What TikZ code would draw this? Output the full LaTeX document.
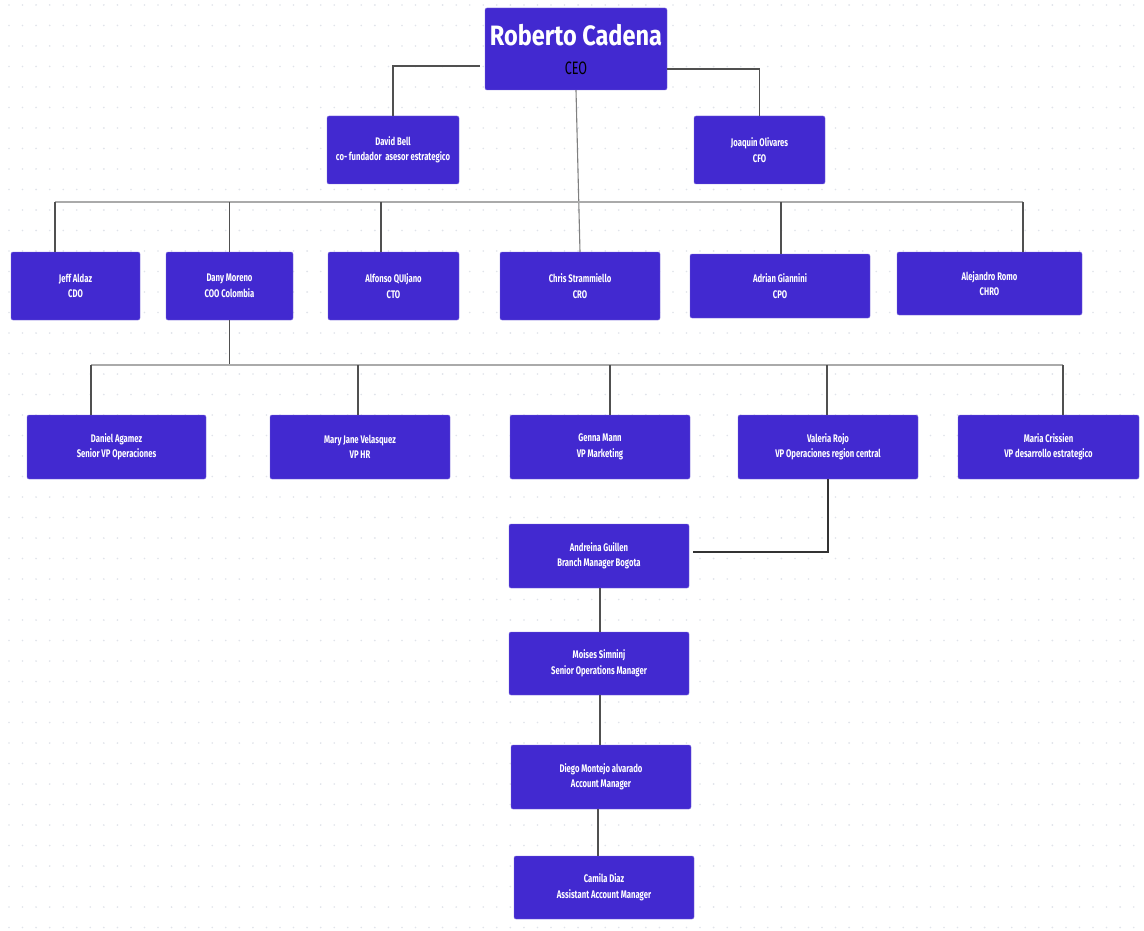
\documentclass[tikz,border=0pt]{standalone}
\usepackage{fontspec}
\setmainfont{Fira Sans}
\newfontfamily\cardfont[FakeStretch=0.7]{Fira Sans}
\newfontfamily\titlefont[FakeStretch=0.84]{Fira Sans}
\usetikzlibrary{positioning, calc}

\definecolor{cardblue}{RGB}{66,41,208}
\definecolor{wiregray}{RGB}{80,80,80}
\definecolor{busgray}{RGB}{170,170,170}
\definecolor{dotgray}{RGB}{224,227,234}

\tikzset{
    card/.style={fill=cardblue, draw=cardblue!70, rounded corners=2pt, text=white, align=center,
        inner sep=0pt, font=\cardfont\bfseries\fontsize{11}{15.5}\selectfont},
    bosscard/.style={card, font=\titlefont\bfseries\fontsize{28}{32}\selectfont},
    wire/.style={draw=wiregray, line width=1.1pt},
    bus/.style={draw=busgray, line width=1.5pt},
}

\begin{document}
\begin{tikzpicture}[x=1pt, y=-1pt]

    % page and dotted canvas
    \fill[white] (0,0) rectangle (1144,931);
    \useasboundingbox (0,0) rectangle (1144,931);
    \foreach \i in {0,...,84}
        \foreach \j in {0,...,45}
            \fill[dotgray] (9+\i*13.55, 5+\j*20.5) circle (0.9pt);

    % top
    \node[bosscard, minimum width=182pt, minimum height=82pt] (ceo) at (576,49)
        {Roberto Cadena\\[-3pt]{\color{black}\cardfont\mdseries\fontsize{18}{20}\selectfont CEO}};
    \node[card, minimum width=132pt, minimum height=68pt] (bell) at (393,150) {David Bell\\co- fundador \ asesor estrategico};
    \node[card, minimum width=131pt, minimum height=68pt] (olivares) at (759.5,150) {Joaquin Olivares\\CFO};

    % c-level
    \node[card, minimum width=129pt, minimum height=68pt] (jeff) at (75.5,286) {Jeff Aldaz\\CDO};
    \node[card, minimum width=127pt, minimum height=68pt] (dany) at (229.5,286) {Dany Moreno\\COO Colombia};
    \node[card, minimum width=131pt, minimum height=68pt] (quijano) at (393.5,286) {Alfonso QUIjano\\CTO};
    \node[card, minimum width=160pt, minimum height=68pt] (chris) at (580,286) {Chris Strammiello\\CRO};
    \node[card, minimum width=180pt, minimum height=64pt] (giannini) at (780,286) {Adrian Giannini\\CPO};
    \node[card, minimum width=185pt, minimum height=63pt] (romo) at (989.5,283.5) {Alejandro Romo\\CHRO};

    % vp level
    \node[card, minimum width=179pt, minimum height=64pt] (agamez) at (116.5,447) {Daniel Agamez\\Senior VP Operaciones};
    \node[card, minimum width=180pt, minimum height=64pt] (velasquez) at (360,447) {Mary Jane Velasquez\\VP HR};
    \node[card, minimum width=180pt, minimum height=64pt] (mann) at (600,447) {Genna Mann\\VP Marketing};
    \node[card, minimum width=180pt, minimum height=64pt] (rojo) at (828,447) {Valeria Rojo\\VP Operaciones region central};
    \node[card, minimum width=181pt, minimum height=64pt] (crissien) at (1048.5,447) {Maria Crissien\\VP desarrollo estrategico};

    % branch chain
    \node[card, minimum width=180pt, minimum height=64pt] (guillen) at (599,556) {Andreina Guillen\\Branch Manager Bogota};
    \node[card, minimum width=180pt, minimum height=63pt] (simninj) at (599,663.5) {Moises Simninj\\Senior Operations Manager};
    \node[card, minimum width=180pt, minimum height=64pt] (montejo) at (601,777) {Diego Montejo alvarado\\Account Manager};
    \node[card, minimum width=180pt, minimum height=63pt] (diaz) at (604,887.5) {Camila Diaz\\Assistant Account Manager};

    \coordinate (busA) at (0,202);
    \coordinate (busB) at (0,365);

    \draw[wire] ([xshift=-5pt, yshift=-17pt]ceo.west) -| (bell.north);
    \draw[wire] ([yshift=-20pt]ceo.east) -| (olivares.north);
    \draw[wire, draw=gray] (ceo.south) -- (chris.north);

    \draw[bus] ([xshift=-20.5pt]jeff.north |- busA) -- ([xshift=33.5pt]romo.north |- busA);
    \foreach \n/\dx in {jeff/-20.5, dany/0, quijano/-12.5, giannini/1, romo/33.5}
        \draw[wire] ([xshift=\dx pt]\n.north) -- ([xshift=\dx pt]\n.north |- busA);

    \draw[wire] (dany.south) -- (dany.south |- busB);
    \draw[bus] ([xshift=-25.5pt]agamez.north |- busB) -- ([xshift=14.5pt]crissien.north |- busB);
    \foreach \n/\dx in {agamez/-25.5, velasquez/-2, mann/10, rojo/-1, crissien/14.5}
        \draw[wire] ([xshift=\dx pt]\n.north) -- ([xshift=\dx pt]\n.north |- busB);

    \draw[wire, draw=black!80, line width=1.8pt] (rojo.south) |- ([xshift=4pt, yshift=4pt]guillen.east);
    \draw[wire] ([xshift=1pt]guillen.south) -- ([xshift=1pt]simninj.north);
    \draw[wire] ([xshift=1pt]simninj.south) -- ([xshift=1pt]simninj.south |- montejo.north);
    \draw[wire] ([xshift=-3pt]montejo.south) -- ([xshift=-3pt]montejo.south |- diaz.north);

\end{tikzpicture}
\end{document}
